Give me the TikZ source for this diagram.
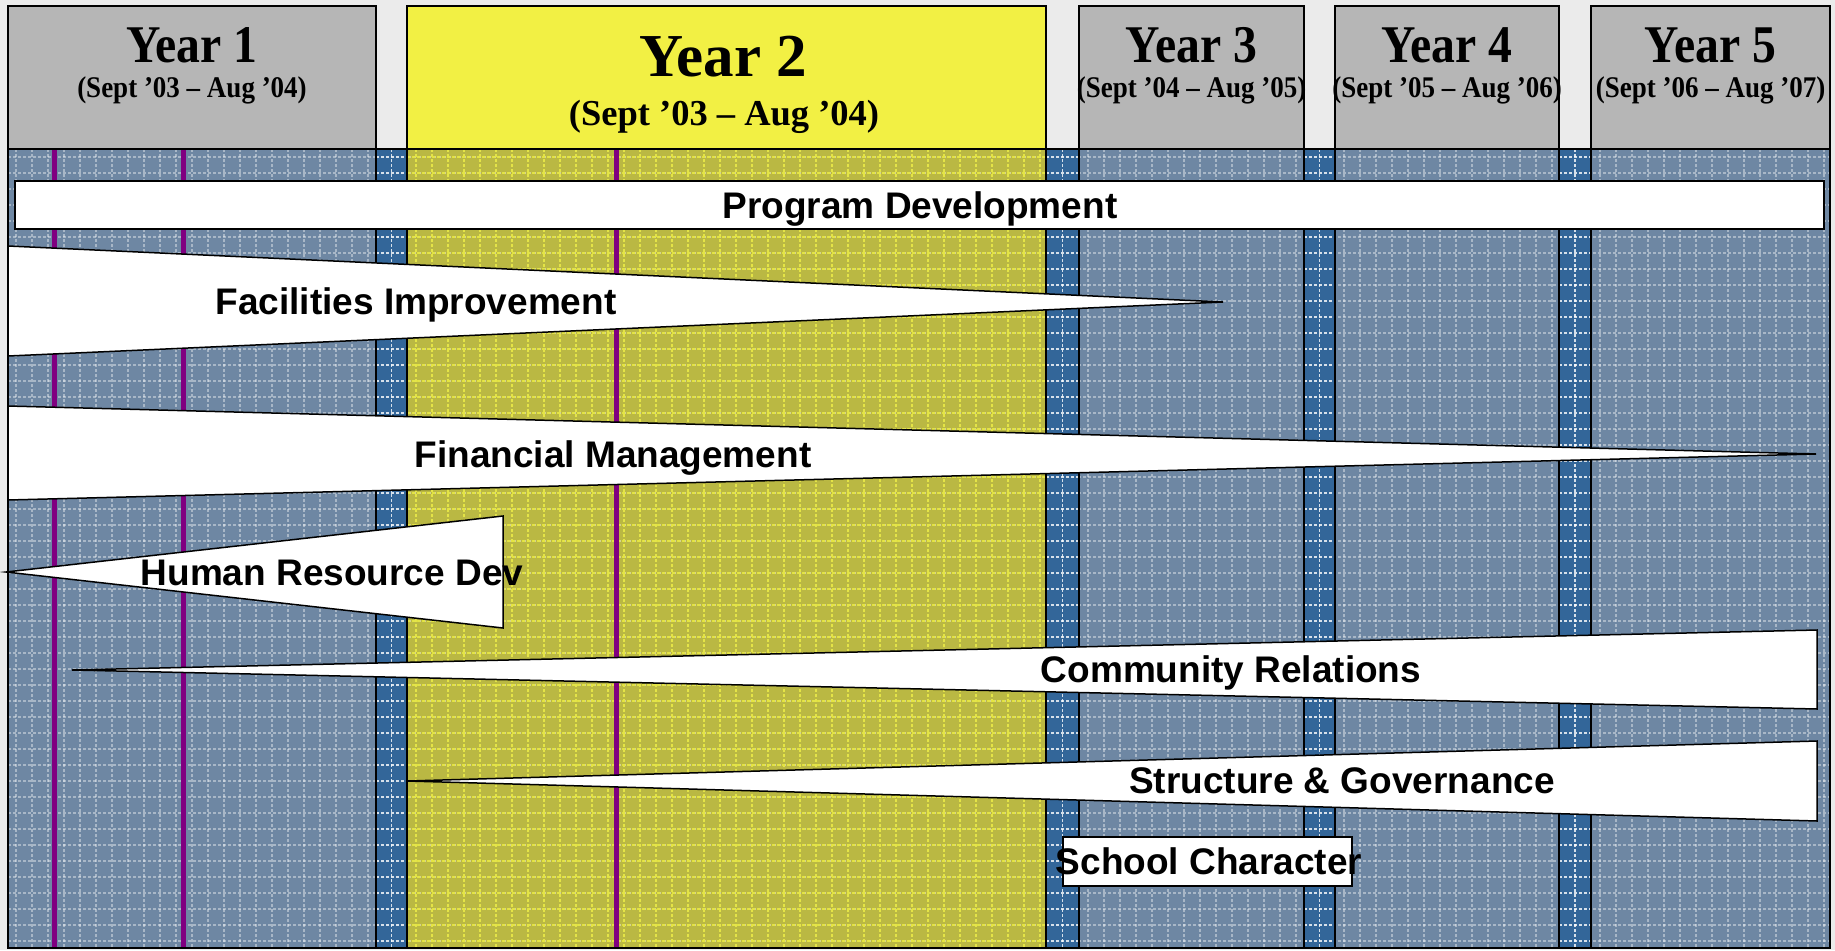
\documentclass[tikz,border=0pt]{standalone}
\usepackage{fontspec}
\setmainfont{Liberation Serif}
\newfontfamily\labelfont{Liberation Sans}

\definecolor{pagegray}{HTML}{EBEBEB}
\definecolor{headgray}{HTML}{B6B6B6}
\definecolor{headyellow}{HTML}{F2F044}
\definecolor{bodyblue}{HTML}{6E87A3}
\definecolor{bodyolive}{HTML}{BAB843}
\definecolor{gridyellow}{HTML}{E6E640}
\definecolor{sepblue}{HTML}{336699}
\definecolor{markpurple}{HTML}{800080}

\begin{document}
\begin{tikzpicture}[x=1pt, y=-1pt,
    colbox/.style={draw=black, line width=1.2pt},
    gridline/.style={white, opacity=0.4, line width=1.2pt, dash pattern=on 3pt off 2pt},
    barshape/.style={draw=black, fill=white, line width=1.5pt},
    barlabel/.style={anchor=base, inner sep=0pt, font=\labelfont\bfseries\fontsize{37}{40}\selectfont},
    yeartitle/.style={anchor=base, inner sep=0pt, font=\bfseries\fontsize{53}{56}\selectfont},
    yeardates/.style={anchor=base, inner sep=0pt, font=\bfseries\fontsize{30}{32}\selectfont}]

        % Page background
        \fill[pagegray] (0,0) rectangle (1835,950);
        \useasboundingbox (0,0) rectangle (1835,950);

        % Body of the year columns
        \foreach \xa/\xb/\shade in {8/376/bodyblue, 407/1046/bodyolive, 1079/1304/bodyblue, 1335/1559/bodyblue, 1591/1830/bodyblue}
            \fill[\shade] (\xa,149) rectangle (\xb,948);

        % Dotted grid over the body
        \begin{scope}
            \clip (8,149) rectangle (1830,948);
            \foreach \y in {157,173,...,941}
                \draw[gridline] (8,\y) -- (1830,\y);
            \foreach \x in {16,32,...,1824}
                \draw[gridline] (\x,149) -- (\x,948);
        \end{scope}
        \begin{scope}
            \clip (407,149) rectangle (1046,948);
            \foreach \y in {157,173,...,941}
                \draw[gridline, gridyellow, opacity=0.9] (407,\y) -- (1046,\y);
            \foreach \x in {416,432,...,1040}
                \draw[gridline, gridyellow, opacity=0.9] (\x,149) -- (\x,948);
        \end{scope}

        % Blue gaps between the years
        \foreach \xa/\xb in {376/407, 1046/1079, 1304/1335, 1559/1591}
        {
            \fill[sepblue] (\xa,149) rectangle (\xb,948);
            \draw[gridline, opacity=0.8] ({(\xa+\xb)/2},149) -- ({(\xa+\xb)/2},948);
            \foreach \y in {157,173,...,941}
                \draw[gridline, opacity=0.8] (\xa,\y) -- (\xb,\y);
        }
        \foreach \xa/\xb in {8/376, 376/407, 407/1046, 1046/1079, 1079/1304, 1304/1335, 1335/1559, 1559/1591, 1591/1830}
            \draw[colbox] (\xa,149) rectangle (\xb,948);

        % Header boxes
        \foreach \xa/\xb in {8/376, 1079/1304, 1335/1559, 1591/1830}
            \draw[colbox, fill=headgray] (\xa,6) rectangle (\xb,149);
        \draw[colbox, fill=headyellow] (407,6) rectangle (1046,149);

        % Header titles
        \foreach \n/\xa/\xb/\ya/\yb in {1/8/376/03/04, 3/1079/1304/04/05, 4/1335/1559/05/06, 5/1591/1830/06/07}
        {
            \node[yeartitle] (title\n) at ({(\xa+\xb)/2},63) {\scalebox{0.9}[1]{Year \n}};
            \node[yeardates] (dates\n) at ({(\xa+\xb)/2},97) {\scalebox{0.9}[1]{(Sept ’\ya{} – Aug ’\yb)}};
        }
        \node[yeartitle, font=\bfseries\fontsize{61}{64}\selectfont] (title2) at (723,77) {Year 2};
        \node[yeardates, font=\bfseries\fontsize{36.5}{39}\selectfont] (dates2) at (724,125) {(Sept ’03 – Aug ’04)};

        % Purple markers
        \foreach \x in {54,183,616}
            \draw[markpurple, line width=5pt] (\x,150) -- (\x,947);

        % Bars
        \draw[barshape] (15,181) rectangle (1824,229);
        \draw[barshape] (8,246) -- (1223,302) -- (8,356) -- cycle;
        \draw[barshape] (8,406) -- (1816,454) -- (8,500) -- cycle;
        \draw[barshape] (6,572) -- (503,516) -- (503,628) -- cycle;
        \draw[barshape] (72,670) -- (1817,630) -- (1817,709) -- cycle;
        \draw[barshape] (407,781) -- (1817,741) -- (1817,821) -- cycle;
        \draw[barshape] (1063,837) rectangle (1352,886);

        % Bar labels
        \node[barlabel] (progdev) at (920,218) {Program Development};
        \node[barlabel] (facilities) at (416,314) {Facilities Improvement};
        \node[barlabel] (finance) at (613,467) {Financial Management};
        \node[barlabel] (humanres) at (332,585) {Human Resource Dev};
        \node[barlabel] (community) at (1231,682) {Community Relations};
        \node[barlabel] (governance) at (1342,793) {Structure \& Governance};
        \node[barlabel] (character) at (1209,874) {School Character};
\end{tikzpicture}
\end{document}
